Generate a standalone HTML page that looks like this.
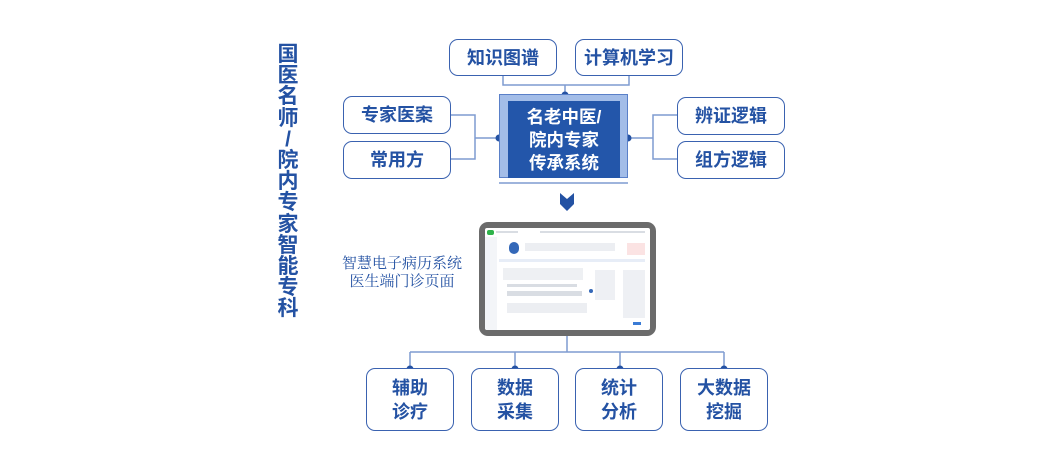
<!DOCTYPE html>
<html><head><meta charset="utf-8"><style>
*{margin:0;padding:0;box-sizing:border-box}
body{width:1061px;height:470px;background:#fff;position:relative;overflow:hidden;font-family:"Liberation Sans","Noto Sans CJK SC",sans-serif}
.a{position:absolute}
.box{position:absolute;border:1.5px solid #3a62b0;border-radius:9px;background:#fff;color:#2452a3;font-weight:bold;font-size:18px;display:flex;align-items:center;justify-content:center;text-align:center;line-height:24px}
.title{left:274px;top:44px;width:28px;color:#2452a3;font-weight:bold;font-size:21px;line-height:21.2px;text-align:center}
.g{position:absolute;background:#d9dde3}
</style></head><body>
<div class="a title">国<br>医<br>名<br>师<br>/<br>院<br>内<br>专<br>家<br>智<br>能<br>专<br>科</div>

<svg class="a" style="left:0;top:0" width="1061" height="470">
<g stroke="#7f9bd0" stroke-width="1.5" fill="none">
<path d="M503 75V85H629V75M565 85V95"/>
<path d="M451 115H475V159H451M475 138H499"/>
<path d="M677 115H653V159H677M653 138H628"/>
<path d="M499 183H628"/>
<path d="M567 335V352M410 352H724M410 352V368M515 352V368M620 352V368M724 352V368"/>
</g>
<g fill="#2452a3">
<circle cx="565" cy="95" r="3.5"/><circle cx="499" cy="138" r="3.5"/><circle cx="628" cy="138" r="3.5"/>
<circle cx="410" cy="369" r="3.5"/><circle cx="515" cy="369" r="3.5"/><circle cx="620" cy="369" r="3.5"/><circle cx="724" cy="369" r="3.5"/>
<path d="M560 193L567 199L574 193V204L567 211L560 204Z"/>
</g>
</svg>

<div class="box" style="left:449px;top:39px;width:108px;height:37px">知识图谱</div>
<div class="box" style="left:575px;top:39px;width:108px;height:37px">计算机学习</div>
<div class="box" style="left:343px;top:96px;width:108px;height:38px">专家医案</div>
<div class="box" style="left:343px;top:141px;width:108px;height:38px">常用方</div>
<div class="box" style="left:677px;top:97px;width:108px;height:38px">辨证逻辑</div>
<div class="box" style="left:677px;top:141px;width:108px;height:38px">组方逻辑</div>

<div class="a" style="left:499px;top:94px;width:129px;height:84px;background:#a3bde8;border:1px solid #5a80c8"></div>
<div class="a" style="left:508px;top:101px;width:112px;height:77px;background:#2356aa;color:#fff;font-weight:bold;font-size:17.5px;line-height:23px;text-align:center;padding-top:5px">名老中医/<br>院内专家<br>传承系统</div>

<div class="a" style="left:331px;top:255px;width:142px;white-space:nowrap;color:#2452a3;font-family:'Liberation Serif','Noto Serif CJK SC',serif;font-size:15px;line-height:18px;text-align:center">智慧电子病历系统<br>医生端门诊页面</div>

<div class="a" style="left:479px;top:222px;width:177px;height:114px;background:#6b6b6b;border-radius:9px"></div>
<div class="a" style="left:485px;top:228px;width:165px;height:102px;background:#fff;border-radius:2px;overflow:hidden">
 <div class="a" style="left:2px;top:2px;width:7px;height:5px;background:#2fb34a;border-radius:2px"></div>
 <div class="g" style="left:11px;top:3px;width:22px;height:2px"></div>
 <div class="g" style="left:55px;top:3px;width:105px;height:2px"></div>
 <div class="a" style="left:0;top:9px;width:12px;height:93px;background:#f3f5f8"></div>
 <div class="a" style="left:24px;top:14px;width:10px;height:12px;background:#3468b8;border-radius:5px"></div>
 <div class="g" style="left:40px;top:15px;width:90px;height:8px;background:#eceef2"></div>
 <div class="a" style="left:142px;top:15px;width:18px;height:12px;background:#fbe3e3"></div>
 <div class="g" style="left:14px;top:31px;width:146px;height:3px;background:#e7edf7"></div>
 <div class="g" style="left:18px;top:40px;width:80px;height:12px;background:#eef0f3"></div>
 <div class="g" style="left:22px;top:56px;width:70px;height:3px"></div>
 <div class="g" style="left:22px;top:63px;width:75px;height:5px"></div>
 <div class="a" style="left:104px;top:61px;width:4px;height:4px;border-radius:2px;background:#3468b8"></div>
 <div class="g" style="left:22px;top:75px;width:80px;height:10px;background:#eceef2"></div>
 <div class="g" style="left:110px;top:42px;width:20px;height:30px;background:#eef0f4"></div>
 <div class="g" style="left:138px;top:42px;width:22px;height:48px;background:#eef0f4"></div>
 <div class="a" style="left:148px;top:94px;width:8px;height:3px;background:#3a7bd5"></div>
</div>

<div class="box" style="left:366px;top:368px;width:88px;height:63px">辅助<br>诊疗</div>
<div class="box" style="left:471px;top:368px;width:88px;height:63px">数据<br>采集</div>
<div class="box" style="left:575px;top:368px;width:88px;height:63px">统计<br>分析</div>
<div class="box" style="left:680px;top:368px;width:88px;height:63px">大数据<br>挖掘</div>
</body></html>
